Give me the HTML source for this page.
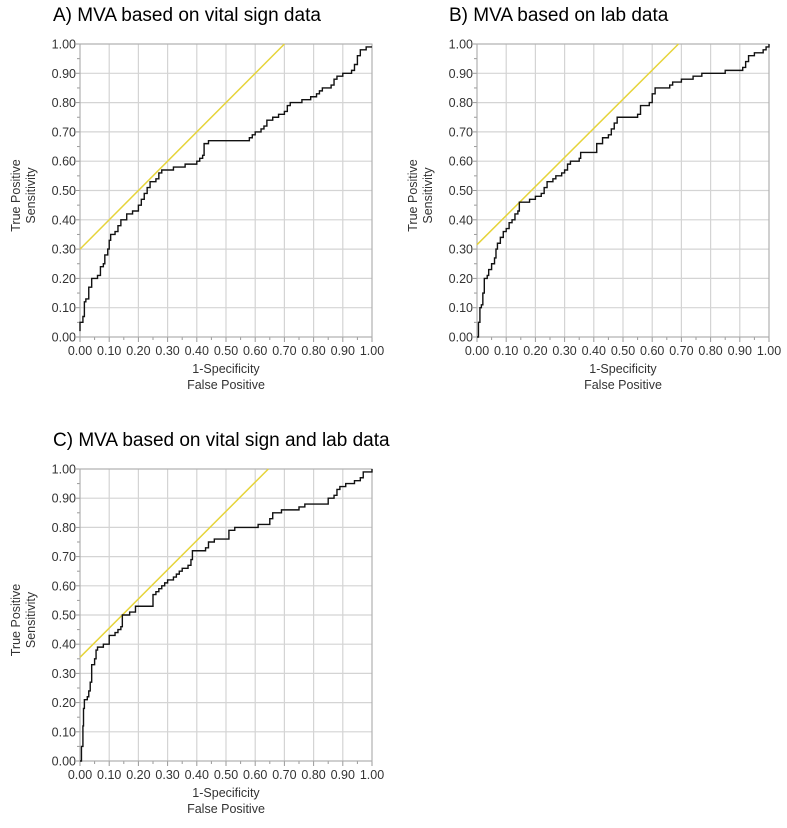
<!DOCTYPE html>
<html><head><meta charset="utf-8"><style>
body{margin:0;background:#fff;width:787px;height:828px;overflow:hidden}
svg{display:block;font-family:"Liberation Sans","DejaVu Sans",sans-serif}
</style></head><body>
<svg id="root" width="787" height="828" xmlns="http://www.w3.org/2000/svg"></svg>
<script>
const ticks = [0,0.1,0.2,0.3,0.4,0.5,0.6,0.7,0.8,0.9,1.0];
const tickLabels = ["0.00","0.10","0.20","0.30","0.40","0.50","0.60","0.70","0.80","0.90","1.00"];
const titles = ["A) MVA based on vital sign data","B) MVA based on lab data","C) MVA based on vital sign and lab data"];
const fprA = [0,0,0.01,0.015,0.02,0.03,0.04,0.06,0.07,0.08,0.085,0.095,0.1,0.105,0.12,0.13,0.14,0.16,0.18,0.2,0.21,0.22,0.23,0.24,0.26,0.27,0.28,0.32,0.36,0.4,0.41,0.42,0.425,0.44,0.53,0.58,0.59,0.6,0.62,0.63,0.64,0.66,0.68,0.7,0.71,0.72,0.76,0.79,0.81,0.82,0.83,0.86,0.87,0.88,0.9,0.93,0.94,0.95,0.96,0.98,1];
const tprA = [0.02,0.05,0.07,0.12,0.13,0.17,0.2,0.21,0.24,0.25,0.28,0.3,0.33,0.35,0.36,0.38,0.4,0.42,0.43,0.45,0.47,0.49,0.51,0.53,0.54,0.56,0.57,0.58,0.59,0.6,0.61,0.62,0.66,0.67,0.67,0.68,0.69,0.7,0.71,0.72,0.74,0.75,0.76,0.77,0.79,0.8,0.81,0.82,0.83,0.84,0.85,0.86,0.88,0.89,0.9,0.91,0.93,0.96,0.98,0.99,0.99];
const fprB = [0,0.005,0.01,0.015,0.02,0.025,0.035,0.04,0.05,0.06,0.065,0.07,0.08,0.09,0.1,0.11,0.12,0.13,0.14,0.145,0.16,0.18,0.2,0.22,0.23,0.24,0.26,0.27,0.29,0.3,0.31,0.32,0.35,0.355,0.4,0.41,0.43,0.45,0.46,0.47,0.48,0.52,0.55,0.56,0.59,0.6,0.61,0.66,0.67,0.7,0.74,0.77,0.84,0.85,0.88,0.91,0.92,0.93,0.95,0.98,0.99,1];
const tprB = [0,0.05,0.1,0.11,0.15,0.2,0.21,0.23,0.25,0.27,0.3,0.32,0.34,0.36,0.37,0.39,0.4,0.42,0.43,0.46,0.46,0.47,0.48,0.49,0.51,0.53,0.54,0.55,0.56,0.57,0.59,0.6,0.61,0.63,0.63,0.66,0.68,0.69,0.71,0.73,0.75,0.75,0.76,0.79,0.8,0.83,0.85,0.86,0.87,0.88,0.89,0.9,0.9,0.91,0.91,0.92,0.94,0.96,0.97,0.98,0.99,1];
const fprC = [0,0.005,0.01,0.012,0.015,0.025,0.03,0.035,0.04,0.05,0.055,0.06,0.08,0.1,0.12,0.13,0.14,0.145,0.17,0.19,0.24,0.25,0.26,0.27,0.28,0.29,0.3,0.32,0.33,0.34,0.35,0.37,0.38,0.385,0.4,0.43,0.44,0.46,0.5,0.51,0.53,0.6,0.61,0.64,0.65,0.66,0.69,0.75,0.77,0.84,0.85,0.87,0.88,0.89,0.91,0.94,0.96,0.97,1,1];
const tprC = [0,0.05,0.12,0.18,0.21,0.22,0.24,0.27,0.33,0.35,0.38,0.39,0.4,0.43,0.44,0.45,0.46,0.5,0.51,0.53,0.53,0.57,0.58,0.59,0.6,0.61,0.62,0.63,0.64,0.65,0.66,0.67,0.69,0.72,0.72,0.73,0.75,0.76,0.76,0.79,0.8,0.8,0.81,0.81,0.83,0.85,0.86,0.87,0.88,0.88,0.9,0.91,0.93,0.94,0.95,0.96,0.97,0.99,0.99,1];
const refLineA = [[0,0.3],[0.7,1]];
const refLineB = [[0,0.315],[0.69,1]];
const refLineC = [[0,0.355],[0.645,1]];

const NS="http://www.w3.org/2000/svg";
const root=document.getElementById('root');
function mk(tag,attrs,parent){const e=document.createElementNS(NS,tag);for(const k in attrs)e.setAttribute(k,attrs[k]);(parent||root).appendChild(e);return e;}

function panel(id,L,T,W,H,title,titleX,titleY,fpr,tpr,ref){
  const g=mk('g',{});
  
  
  const sx=v=>L+v*W, sy=v=>T+H-v*H;
  const t=mk('text',{x:titleX,y:titleY,'font-size':19,fill:'#000'},g);
  t.textContent=title;
  
  
  ticks.forEach((v,i)=>{
    const gx=mk('line',{x1:sx(v),x2:sx(v),y1:T,y2:T+H,stroke:'#d4d4d4','stroke-width':1.2},g);
    
    
    const gy=mk('line',{x1:L,x2:L+W,y1:sy(v),y2:sy(v),stroke:'#d4d4d4','stroke-width':1.2},g);
    
    
    const xl=mk('text',{x:sx(v),y:T+H+18,'font-size':12.5,'text-anchor':'middle',fill:'#333'},g);
    xl.textContent=tickLabels[i];
    
    
    const yl=mk('text',{x:L-4,y:sy(v)+4.5,'font-size':12.5,'text-anchor':'end',fill:'#333'},g);
    yl.textContent=tickLabels[i];
    
    
    if(i<ticks.length-1){
      const m=v+0.05;
      mk('line',{x1:sx(m),x2:sx(m),y1:T+H,y2:T+H+3,stroke:'#999'},g);
      mk('line',{x1:L-3,x2:L,y1:sy(m),y2:sy(m),stroke:'#999'},g);
    }
    mk('line',{x1:sx(v),x2:sx(v),y1:T+H,y2:T+H+5,stroke:'#999'},g);
    mk('line',{x1:L-5,x2:L,y1:sy(v),y2:sy(v),stroke:'#999'},g);
  });
  const fr=mk('rect',{x:L,y:T,width:W,height:H,fill:'none',stroke:'#aaa','stroke-width':1},g);
  
  
  const rl=mk('line',{x1:sx(ref[0][0]),y1:sy(ref[0][1]),x2:sx(ref[1][0]),y2:sy(ref[1][1]),stroke:'#e6d43a','stroke-width':1.5},g);
  
  
  let d='M'+sx(fpr[0])+','+sy(tpr[0]);
  for(let i=1;i<fpr.length;i++){d+=' L'+sx(fpr[i])+','+sy(tpr[i-1])+' L'+sx(fpr[i])+','+sy(tpr[i]);}
  const c=mk('path',{d:d,fill:'none',stroke:'#111','stroke-width':1.4},g);
  
  
  const cx=L+W/2;
  const x1=mk('text',{x:cx,y:T+H+36,'font-size':12.5,'text-anchor':'middle',fill:'#333'},g);
  x1.textContent='1-Specificity';
  
  
  const x2=mk('text',{x:cx,y:T+H+52,'font-size':12.5,'text-anchor':'middle',fill:'#333'},g);
  x2.textContent='False Positive';
  
  
  const cy=T+H/2+5;
  const ax=L-60;
  const y1=mk('text',{x:0,y:0,'font-size':12.5,'text-anchor':'middle',fill:'#333',transform:`translate(${ax},${cy}) rotate(-90)`},g);
  y1.textContent='True Positive';
  
  
  const y2=mk('text',{x:0,y:0,'font-size':12.5,'text-anchor':'middle',fill:'#333',transform:`translate(${ax+15},${cy}) rotate(-90)`},g);
  y2.textContent='Sensitivity';
  
  
}
panel('a',80,44,292,293,titles[0],53,21,fprA,tprA,refLineA);
panel('b',477,44,292,293,titles[1],449,21,fprB,tprB,refLineB);
panel('c',80,469,292,292,titles[2],53,446,fprC,tprC,refLineC);
</script>
</body></html>
